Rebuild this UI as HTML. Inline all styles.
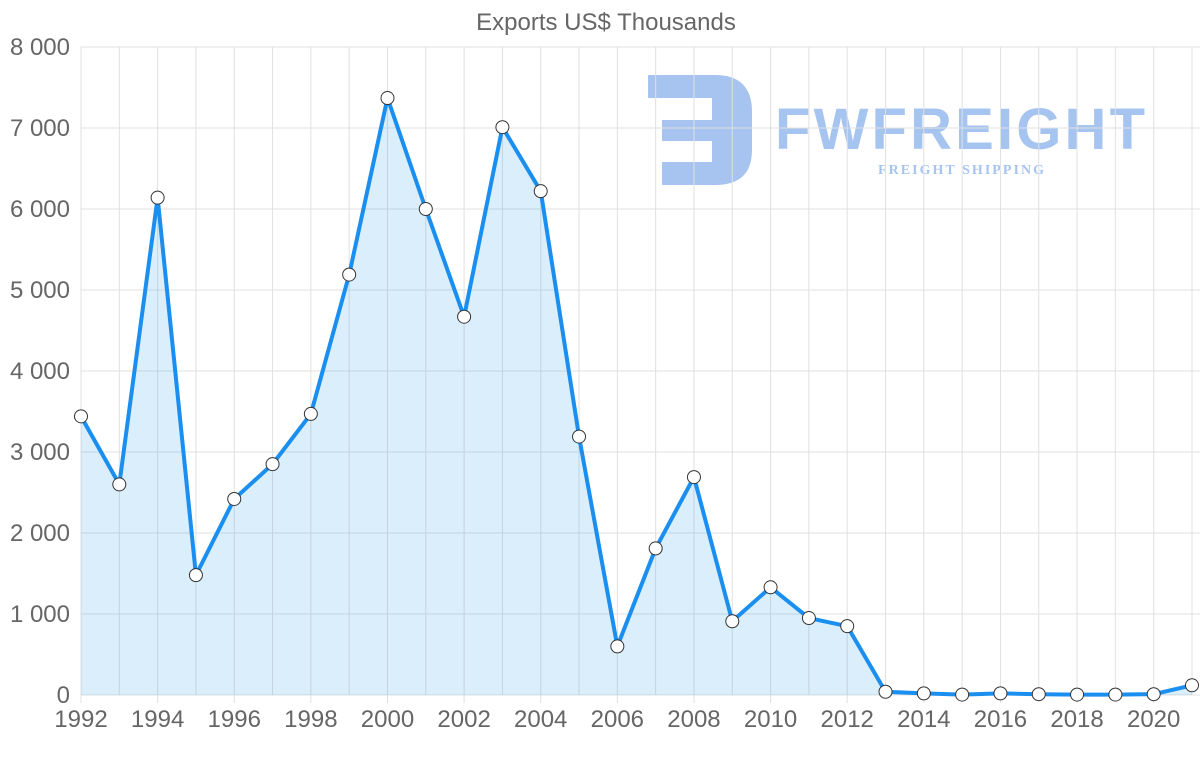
<!DOCTYPE html>
<html><head><meta charset="utf-8"><style>
body{margin:0;background:#fff;width:1200px;height:763px;overflow:hidden;font-family:"Liberation Sans",sans-serif}
</style></head><body>
<svg id="chart" width="1200" height="763" xmlns="http://www.w3.org/2000/svg">
<text x="606" y="30" text-anchor="middle" font-size="24" fill="#666">Exports US$ Thousands</text>
<g opacity="0.45">
<path d="M648 75 H715 Q752 75 752 112 V150 Q752 185 715 185 H662 V162 H712 V141 H662 V120 H712 V98 H648 Z" fill="#3b7de0"/>
<text x="775" y="149" font-size="58" font-weight="bold" fill="#3b7de0" textLength="370">FWFREIGHT</text>
<text x="878" y="174" font-size="14" font-family="Liberation Serif" font-weight="bold" fill="#3b7de0" textLength="166">FREIGHT SHIPPING</text>
</g>
<g id="grid"></g><g id="series"></g><g id="labels"></g>
</svg>
<script>
const years=[1992,1993,1994,1995,1996,1997,1998,1999,2000,2001,2002,2003,2004,2005,2006,2007,2008,2009,2010,2011,2012,2013,2014,2015,2016,2017,2018,2019,2020,2021];
const exportsValues=[3440,2600,6140,1480,2420,2850,3470,5190,7370,6000,4670,7010,6220,3190,600,1810,2690,910,1330,950,850,40,20,5,20,10,5,5,10,120];
const yTicks=[0,1000,2000,3000,4000,5000,6000,7000,8000];
const yTickLabels=["0","1 000","2 000","3 000","4 000","5 000","6 000","7 000","8 000"];
const NS="http://www.w3.org/2000/svg";
const x0=81,x1=1192,yb=695,yt=47;
const xs=y=>x0+(y-years[0])/(years[years.length-1]-years[0])*(x1-x0);
const ys=v=>yb-v/8000*(yb-yt);
function mk(t,a,p){const e=document.createElementNS(NS,t);for(const k in a)e.setAttribute(k,a[k]);p.appendChild(e);return e;}
const grid=document.getElementById('grid'),ser=document.getElementById('series'),lab=document.getElementById('labels');
yTicks.forEach((v,i)=>{
 const l=mk('line',{x1:x0,x2:x1+8,y1:ys(v),y2:ys(v),stroke:'#e0e0e0','stroke-width':1},grid);
 
 
 const t=mk('text',{x:70,y:ys(v)+8,'text-anchor':'end','font-size':24,fill:'#666'},lab);
 t.textContent=yTickLabels[i];
 
 
});
years.forEach((yr,i)=>{
 const l=mk('line',{x1:xs(yr),x2:xs(yr),y1:yt,y2:yb+(i%2==0?8:0),stroke:'#e0e0e0','stroke-width':1},grid);
 
 
 if(i%2==0){
  const t=mk('text',{x:xs(yr),y:727,'text-anchor':'middle','font-size':24,fill:'#666'},lab);
  t.textContent=yr;
  
  
 }
});
let d='';years.forEach((yr,i)=>{d+=(i?'L':'M')+xs(yr)+' '+ys(exportsValues[i]);});
const area=mk('path',{d:d+'L'+xs(years[years.length-1])+' '+yb+'L'+x0+' '+yb+'Z',fill:'rgba(54,162,235,0.18)'},ser);


const line=mk('path',{d:d,fill:'none',stroke:'#1a8ff0','stroke-width':4,'stroke-linejoin':'round'},ser);


years.forEach((yr,i)=>{
 const c=mk('circle',{cx:xs(yr),cy:ys(exportsValues[i]),r:6.5,fill:'#fff',stroke:'#333','stroke-width':1},ser);
 
 
});
</script>
</body></html>
